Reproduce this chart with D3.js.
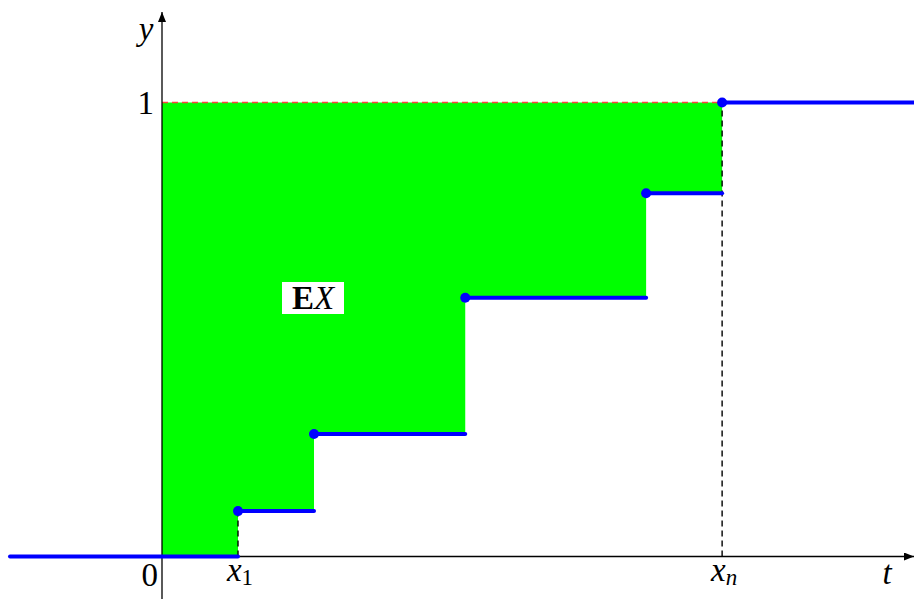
<!DOCTYPE html>
<html><head><meta charset="utf-8">
<script src="https://cdn.jsdelivr.net/npm/d3@7/dist/d3.min.js"></script>
<style>body{margin:0;background:#fff}svg{display:block}text{font-family:"Liberation Serif","DejaVu Serif",serif;}</style>
</head><body>
<script>
// Jump points of the step CDF and levels
const jumps = [1, 2, 3.99, 6.37, 7.37];
const levels = [0, 0.1, 0.27, 0.57, 0.8, 1];
const xTickLabels = [{t:1, main:"x", sub:"1", subItalic:false}, {t:7.37, main:"x", sub:"n", subItalic:true}];
const yTickLabels = [{v:0, label:"0"}, {v:1, label:"1"}];

const W = 914, H = 599;
const svg = d3.select("body").append("svg").attr("width", W).attr("height", H);
const x = d3.scaleLinear().domain([0, 10]).range([162, 922]);
const y = d3.scaleLinear().domain([0, 1]).range([556.5, 102.5]);

const xMin = -2, xMax = 10;

// green area between step function and 1, from 0 to x_n
const areaPts = [{t:0, v:levels[0]}].concat(jumps.map((j,i)=>({t:j, v:levels[i+1]})));
svg.append("path").datum(areaPts)
  .attr("d", d3.area().curve(d3.curveStepAfter).x(d=>x(d.t)).y0(d=>y(d.v)).y1(y(1)))
  .attr("fill", "#00ff00");

// red dashed line at y=1
svg.append("line").attr("x1", x(0)).attr("x2", x(jumps[jumps.length-1]))
  .attr("y1", y(1)).attr("y2", y(1))
  .attr("stroke", "#ff4040").attr("stroke-width", 1.4).attr("stroke-dasharray", "6,4");

// dashed verticals at x1 and xn
[[jumps[0], levels[1]], [jumps[jumps.length-1], levels[levels.length-1]]].forEach(([t,v]) => {
  svg.append("line").attr("x1", x(t)).attr("x2", x(t)).attr("y1", y(0)).attr("y2", y(v))
    .attr("stroke", "#000").attr("stroke-width", 1.4).attr("stroke-dasharray", "6,4");
});

// axes
const defs = svg.append("defs");
defs.append("marker").attr("id","arr").attr("viewBox","0 0 10 8").attr("refX",10).attr("refY",4)
  .attr("markerWidth",10).attr("markerHeight",8).attr("markerUnits","userSpaceOnUse").attr("orient","auto")
  .append("path").attr("d","M0,0 L10,4 L0,8 Z").attr("fill","#000");
svg.append("line").attr("x1", x(xMin)).attr("x2", 914).attr("y1", y(0)).attr("y2", y(0))
  .attr("stroke","#000").attr("stroke-width",1.3).attr("marker-end","url(#arr)");
svg.append("line").attr("x1", x(0)).attr("x2", x(0)).attr("y1", 599).attr("y2", 12)
  .attr("stroke","#000").attr("stroke-width",1.3).attr("marker-end","url(#arr)");

// blue step segments
const bounds = [xMin].concat(jumps).concat([xMax]);
levels.forEach((v,i) => {
  svg.append("line").attr("x1", x(bounds[i])).attr("x2", x(bounds[i+1]))
    .attr("y1", y(v)).attr("y2", y(v))
    .attr("stroke","#0000ff").attr("stroke-width",4).attr("stroke-linecap","round");
});
// dots at jumps
jumps.forEach((j,i) => {
  svg.append("circle").attr("cx", x(j)).attr("cy", y(levels[i+1])).attr("r", 5).attr("fill","#0000ff");
});

// labels
const fs = 33;
svg.append("text").attr("x", 146).attr("y", 40).attr("text-anchor","middle")
  .attr("font-size", fs).attr("font-style","italic").text("y");
svg.append("text").attr("x", 887).attr("y", 584).attr("text-anchor","middle")
  .attr("font-size", fs).attr("font-style","italic").text("t");
yTickLabels.forEach(d => {
  const t = svg.append("text").attr("font-size", fs).attr("text-anchor","end").text(d.label);
  if (d.v === 1) t.attr("x", 154).attr("y", y(1) + 11);
  else t.attr("x", 158).attr("y", 586);
});
xTickLabels.forEach(d => {
  const t = svg.append("text").attr("x", x(d.t) + 2).attr("y", 581).attr("text-anchor","middle").attr("font-size", fs);
  t.append("tspan").attr("font-style","italic").text(d.main);
  t.append("tspan").attr("font-size", 23).attr("dy", 4).attr("font-style", d.subItalic ? "italic" : "normal").text(d.sub);
});

// EX label
svg.append("rect").attr("x", 282).attr("y", 282).attr("width", 62).attr("height", 32).attr("fill","#fff");
const ex = svg.append("text").attr("x", 313).attr("y", 309).attr("text-anchor","middle").attr("font-size", fs);
ex.append("tspan").attr("font-weight","bold").text("E");
ex.append("tspan").attr("font-style","italic").text("X");
</script>
</body></html>
